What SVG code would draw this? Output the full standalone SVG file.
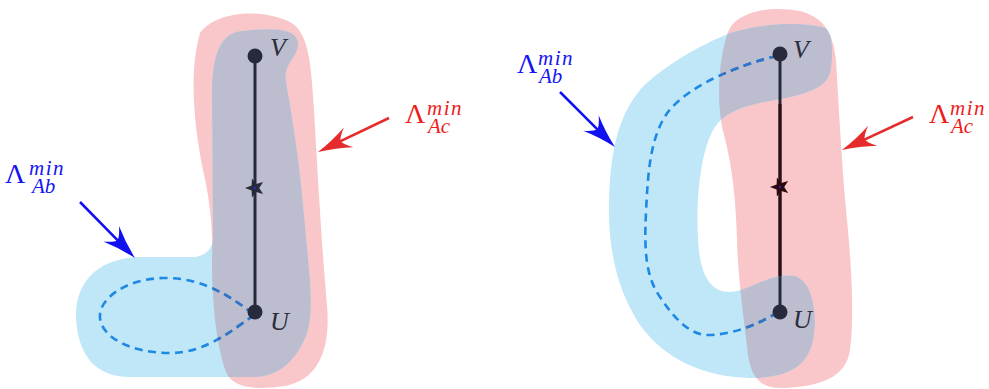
<svg xmlns="http://www.w3.org/2000/svg" width="989" height="389" viewBox="0 0 989 389">
<style>
.pink{fill:#f9c7c9}
.lblue{fill:#c0e7f7}
.gray{fill:#bdbdd0}
.edge{stroke:#262a3b;stroke-width:3;fill:none}
.dash{fill:none;stroke:#1e88e5;stroke-width:2.6;stroke-dasharray:8 5.5}
.dash2{fill:none;stroke:#3474c4;stroke-width:2.6;stroke-dasharray:8 5.5}
.dot{fill:#262a3b}
.nl{font-family:"Liberation Serif",serif;font-style:italic;font-size:26px;fill:#2a2d3a}
.lam{font-family:"Liberation Serif",serif;font-size:28px}
.sub{font-style:italic;font-size:21px}
.sup{font-style:italic;font-size:21px;letter-spacing:1.5px}
.blue{fill:#1414f0}
.red{fill:#ee1c1c}
.arb{stroke:#1010f0;stroke-width:2.5;fill:none}
.arr{stroke:#e52b2b;stroke-width:2.5;fill:none}
</style>
<defs>
<path id="LR" d="M200,33 C213,14 255,6 290,22 C308,32 311,60 314,110 C318,180 322,250 327,305 C331,350 318,380 285,386 C258,390 233,389 226,372 C216,345 212,300 212,262 C213,228 210,200 203,170 C195,130 188,75 200,33 Z"/>
<path id="LB" d="M242,31 C268,28 296,27 298,42 C299,58 283,62 286,82 C292,115 300,165 304,215 C308,265 316,310 306,336 C296,360 280,376 255,377 L130,377 C95,377 78,355 76,318 C75,280 100,258 140,257 L195,257 C207,255 213,248 213,238 L212,95 C212,55 220,33 242,31 Z"/>
<path id="RR" d="M728,32 C735,12 770,5 800,11 C822,17 833,30 836,60 C839,110 842,170 847,220 C852,270 854,320 850,350 C846,378 820,386 785,388 C762,389 752,380 748,355 C744,320 738,280 737,240 C736,200 732,165 724,135 C716,105 718,60 728,32 Z"/>
<path id="RB" d="M730,33 C765,22 805,22 825,28 C834,32 833,60 830,73 C826,88 805,95 775,100 C745,105 725,112 715,127 C700,150 696,200 698,240 C700,275 710,292 730,292 C750,291 770,272 795,276 C812,282 817,310 814,335 C810,365 790,378 750,378 C705,377 665,360 640,325 C620,295 608,255 609,205 C610,160 615,120 640,90 C660,68 700,45 730,33 Z"/>
<clipPath id="cLR"><use href="#LR"/></clipPath>
<clipPath id="cRR"><use href="#RR"/></clipPath>
<path id="star" d="M-10,0 L-3.4,-2.47 L-3.09,-9.51 L1.3,-3.99 L8.09,-5.88 L4.2,0 L8.09,5.88 L1.3,3.99 L-3.09,9.51 L-3.4,2.47 Z"/>
<marker id="hb" markerUnits="userSpaceOnUse" viewBox="-36 -12 38 24" markerWidth="38" markerHeight="24" refX="-10" refY="0" orient="auto">
<path d="M0,0 Q-18,-4 -34,-11 Q-26,-4 -25,0 Q-26,4 -34,11 Q-18,4 0,0 Z" fill="#1010f0"/>
</marker>
<marker id="hr" markerUnits="userSpaceOnUse" viewBox="-36 -12 38 24" markerWidth="38" markerHeight="24" refX="-10" refY="0" orient="auto">
<path d="M0,0 Q-18,-4 -34,-11 Q-26,-4 -25,0 Q-26,4 -34,11 Q-18,4 0,0 Z" fill="#e52b2b"/>
</marker>
</defs>

<g id="left-regions">
<use href="#LR" class="pink"/>
<use href="#LB" class="lblue"/>
<use href="#LB" class="gray" clip-path="url(#cLR)"/>
</g>
<g id="right-regions">
<use href="#RR" class="pink"/>
<use href="#RB" class="lblue"/>
<use href="#RB" class="gray" clip-path="url(#cRR)"/>
</g>

<g id="connectors">
<line class="edge" x1="255" y1="56" x2="255" y2="312"/>
<line class="edge" x1="780" y1="54" x2="780" y2="312"/>
<line x1="780" y1="104" x2="780" y2="276" stroke="#2a0f16" stroke-width="3"/>
<path class="dash" d="M253,314 C226,292 196,277 163,278 C124,279 98,300 100,318 C102,338 132,353 170,353 C206,353 232,330 253,316"/>
<path class="dash2" clip-path="url(#cLR)" d="M253,314 C226,292 196,277 163,278 C124,279 98,300 100,318 C102,338 132,353 170,353 C206,353 232,330 253,316"/>
<path class="dash" d="M777,56 C742,64 690,84 668,112 C650,137 648,172 646,212 C644,252 646,277 660,297 C674,318 690,336 710,335 C735,334 758,324 777,313"/>
<path class="dash2" clip-path="url(#cRR)" d="M777,56 C742,64 690,84 668,112 C650,137 648,172 646,212 C644,252 646,277 660,297 C674,318 690,336 710,335 C735,334 758,324 777,313"/>
<path class="arb" d="M80,202 L128,250.9" marker-end="url(#hb)"/>
<path class="arr" d="M389,118 L327,147.7" marker-end="url(#hr)"/>
<path class="arb" d="M560,92 L607.9,139.9" marker-end="url(#hb)"/>
<path class="arr" d="M913,117 L851,145.8" marker-end="url(#hr)"/>
</g>

<g id="node-left-V"><circle class="dot" cx="255" cy="56" r="7.5"/><text class="nl" x="270" y="56">V</text></g>
<g id="node-left-U"><circle class="dot" cx="255" cy="312" r="7.5"/><text class="nl" x="270" y="330">U</text></g>
<g id="node-left-star"><use href="#star" transform="translate(255,188)" fill="#262a3b"/><circle cx="255" cy="188" r="1" fill="#2030ff"/></g>

<g id="node-right-V"><circle class="dot" cx="780" cy="54" r="7.5"/><text class="nl" x="793" y="58">V</text></g>
<g id="node-right-U"><circle class="dot" cx="780" cy="312" r="7.5"/><text class="nl" x="793" y="328">U</text></g>
<g id="node-right-star"><use href="#star" transform="translate(780,187)" fill="#2a0a10"/><circle cx="780" cy="187" r="1" fill="#2030ff"/></g>

<g id="label-left-Ab">
<text class="lam blue" x="5" y="183">Λ<tspan class="sup" x="29" y="175">min</tspan><tspan class="sub" x="32" y="193">Ab</tspan></text>
</g>
<g id="label-left-Ac">
<text class="lam red" x="405" y="123">Λ<tspan class="sup" x="427" y="115">min</tspan><tspan class="sub" x="428" y="133">Ac</tspan></text>
</g>
<g id="label-right-Ab">
<text class="lam blue" x="517" y="73">Λ<tspan class="sup" x="538" y="65">min</tspan><tspan class="sub" x="539" y="83">Ab</tspan></text>
</g>
<g id="label-right-Ac">
<text class="lam red" x="929" y="123">Λ<tspan class="sup" x="950" y="115">min</tspan><tspan class="sub" x="951" y="133">Ac</tspan></text>
</g>
</svg>
